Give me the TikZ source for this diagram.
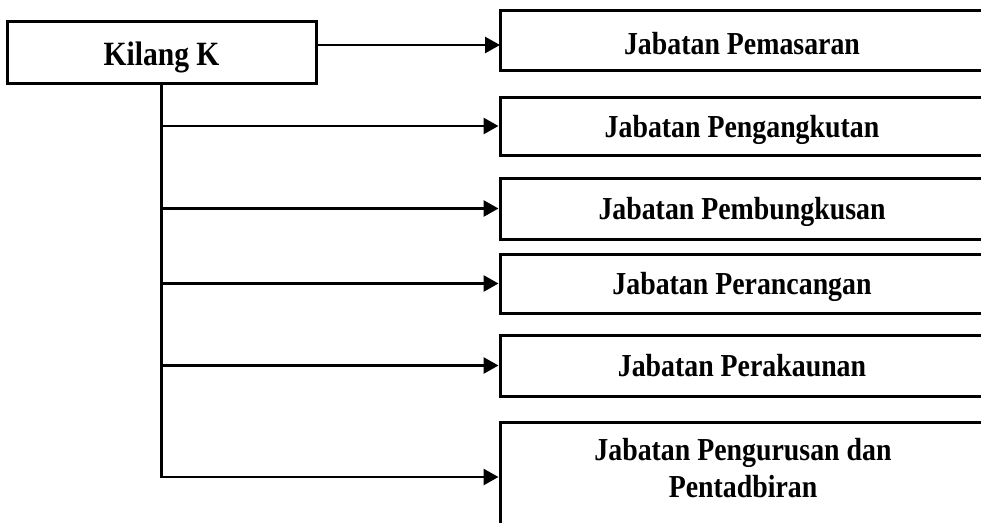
\documentclass[tikz,border=0pt]{standalone}
\usepackage{fontspec}
\setmainfont{Liberation Serif}[FakeStretch=0.87]
\usetikzlibrary{arrows.meta}
\begin{document}
\begin{tikzpicture}[x=1pt,y=-1pt,
  lbl/.style={font=\fontsize{32}{37}\selectfont\bfseries, align=center, inner sep=0pt},
  box/.style={draw, line width=3pt, minimum width=484pt, inner sep=0pt, lbl,
              text height=22pt, text depth=0pt},
  conn/.style={line width=2.8pt, -{Triangle[length=15pt,width=16pt]}}]
\clip (0,0) rectangle (981,522);
\node[draw, line width=3pt, minimum width=309pt, minimum height=62pt, inner sep=0pt,
      font=\fontsize{34}{40}\selectfont\bfseries, text height=26pt, text depth=0pt]
      (k) at (161.5,52) {Kilang K};
\node[box, minimum height=60pt, text height=27pt] (b1) at (742,40.5) {Jabatan Pemasaran};
\node[box, minimum height=58pt] (b2) at (742,126) {Jabatan Pengangkutan};
\node[box, minimum height=61pt] (b3) at (742,208.5) {Jabatan Pembungkusan};
\node[box, minimum height=59pt] (b4) at (742,283.5) {Jabatan Perancangan};
\node[box, minimum height=61pt] (b5) at (742,365.5) {Jabatan Perakaunan};
\node[box, minimum height=110pt] (b6) at (742,477) {};
\node[lbl] (t6) at (743,468) {Jabatan Pengurusan dan\\Pentadbiran};
\coordinate (a1) at (500,45);
\draw[conn] (k.east |- a1) -- (a1);
\draw[conn] (k.south) |- (b6.west);
\foreach \b in {b2,b3,b4,b5}
  \draw[conn] (k.south |- \b.west) -- (\b.west);
\end{tikzpicture}
\end{document}
